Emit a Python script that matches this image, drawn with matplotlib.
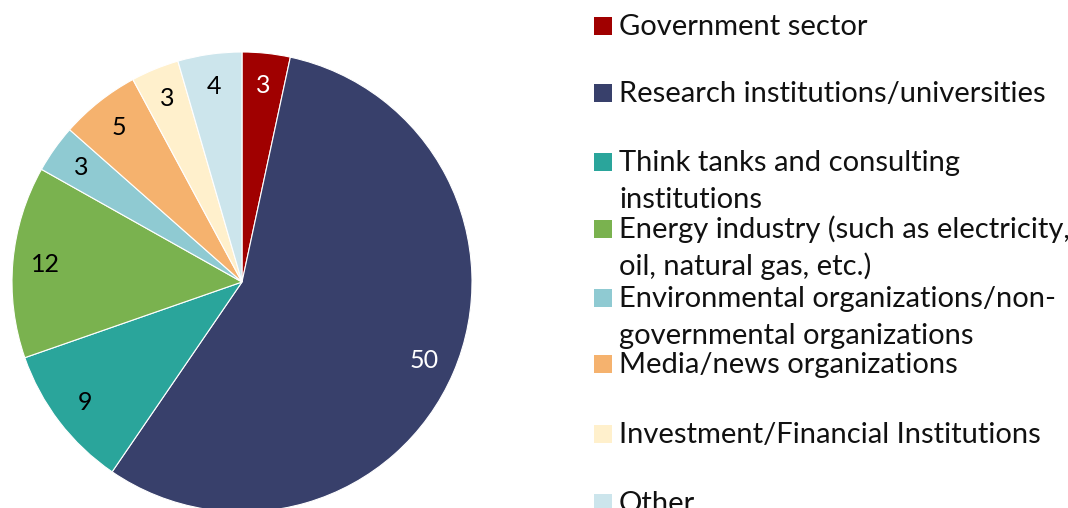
import matplotlib
matplotlib.use("Agg")
import matplotlib.pyplot as plt
from matplotlib.patches import Rectangle

plt.rcParams["font.family"] = ["Lato", "DejaVu Sans"]

categories = [
    "Government sector",
    "Research institutions/universities",
    "Think tanks and consulting\ninstitutions",
    "Energy industry (such as electricity,\noil, natural gas, etc.)",
    "Environmental organizations/non-\ngovernmental organizations",
    "Media/news organizations",
    "Investment/Financial Institutions",
    "Other",
]
values = [3, 50, 9, 12, 3, 5, 3, 4]
colors = ["#A00000", "#38406B", "#2AA59B", "#7AB24F",
          "#8FCAD2", "#F5B26E", "#FFF0CC", "#CCE5EC"]
label_colors = ["white", "white", "black", "black",
                "black", "black", "black", "black"]

W, H = 1068, 508
fig = plt.figure(figsize=(W / 100, H / 100), dpi=100)

# pie centre (242, 282) px, radius 230 px; bottom runs off the figure
cx, cy, r = 242, 282, 230
ax = fig.add_axes([(cx - r) / W, (H - cy - r) / H, 2 * r / W, 2 * r / H])
wedges, texts = ax.pie(
    values, colors=colors, startangle=90, counterclock=False,
    labels=[str(v) for v in values], labeldistance=0.86,
    wedgeprops=dict(linewidth=0.8, edgecolor="white"),
    textprops=dict(fontsize=18),
)
for t, c in zip(texts, label_colors):
    t.set_color(c)
    t.set_horizontalalignment("center")
    t.set_verticalalignment("center")
for w in wedges:
    w.set_clip_on(False)
ax.set_xlim(-1, 1)
ax.set_ylim(-1, 1)
ax.axis("off")

# legend: first-line baselines ~68 px apart, wrapped lines 37 px below
baselines = [35, 102, 171, 238, 307, 373, 443, 512]
for y, label, c in zip(baselines, categories, colors):
    fig.patches.append(Rectangle((594 / W, 1 - y / H), 18 / W, 18 / H,
                                 transform=fig.transFigure, facecolor=c,
                                 edgecolor="none", figure=fig))
    for i, line in enumerate(label.split("\n")):
        fig.text(619 / W, 1 - (y + 37 * i) / H, line, fontsize=21,
                 va="baseline", ha="left", color="#111111")

fig.savefig("out.png", dpi=100)
